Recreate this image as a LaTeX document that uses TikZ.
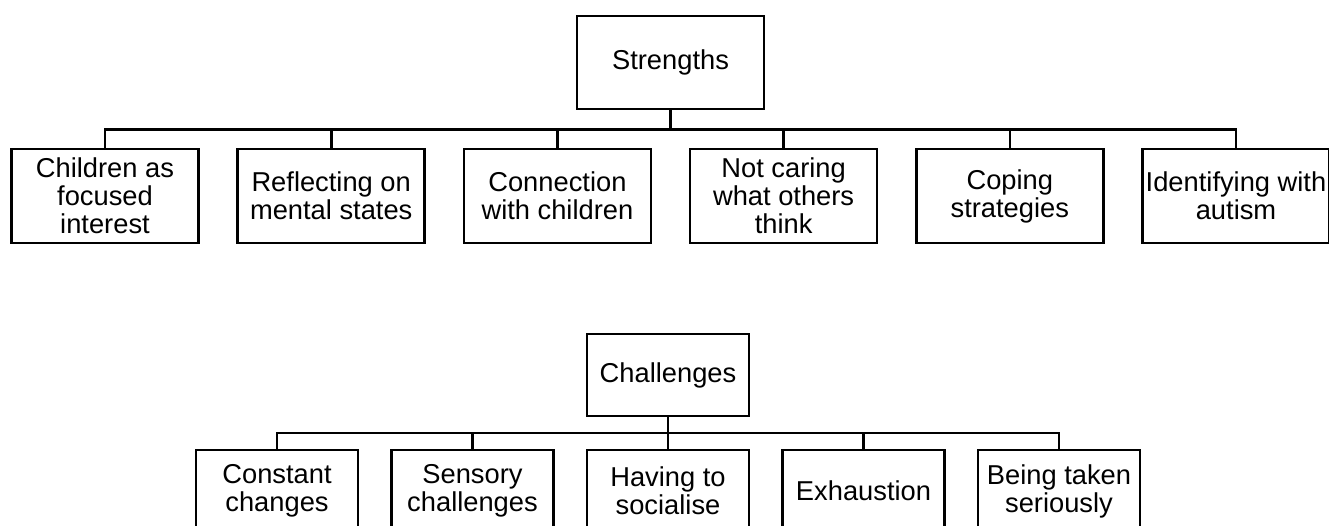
\documentclass[tikz,border=0pt]{standalone}
\usepackage{fontspec}
\setmainfont{Liberation Sans}
\usetikzlibrary{trees}
\tikzset{
	main node/.style={rectangle,draw,align=center,inner sep=0pt,font=\fontsize{27.3}{28}\selectfont},
	top node/.style={main node,minimum width=187pt,minimum height=94pt},
	low node/.style={main node,minimum width=162pt,minimum height=82pt}
}
\begin{document}
\begin{tikzpicture}[x=1pt,y=1pt,line width=2.6pt,
		edge from parent fork down,
		level 1/.style={sibling distance=226.2pt, level distance=133.5pt}]
	\useasboundingbox (0,0) rectangle (1329,-526);
	% strengths
	\node [top node,minimum height=93pt] (str) at (670.5,-62.5) {Strengths}
		child {node [top node] (focus) {Children as\\focused\\interest}}
		child {node [top node] (mental) {Reflecting on\\mental states}}
		child {node [top node] (conn) {Connection\\with children}}
		child {node [top node] (caring) {Not caring\\what others\\think}}
		child {node [top node] (coping) {Coping\\strategies}}
		child {node [top node] (ident) {Identifying with\\autism}};
	% challenges
	\begin{scope}[level 1/.style={sibling distance=195.5pt, level distance=116pt}]
		\node [low node] (chal) at (668,-375) {Challenges}
			child {node [low node] (changes) {Constant\\changes}}
			child {node [low node] (sensory) {Sensory\\challenges}}
			child {node [low node] (social) {Having to\\socialise}}
			child {node [low node] (exhaust) {Exhaustion}}
			child {node [low node] (serious) {Being taken\\seriously}};
	\end{scope}
\end{tikzpicture}
\end{document}
